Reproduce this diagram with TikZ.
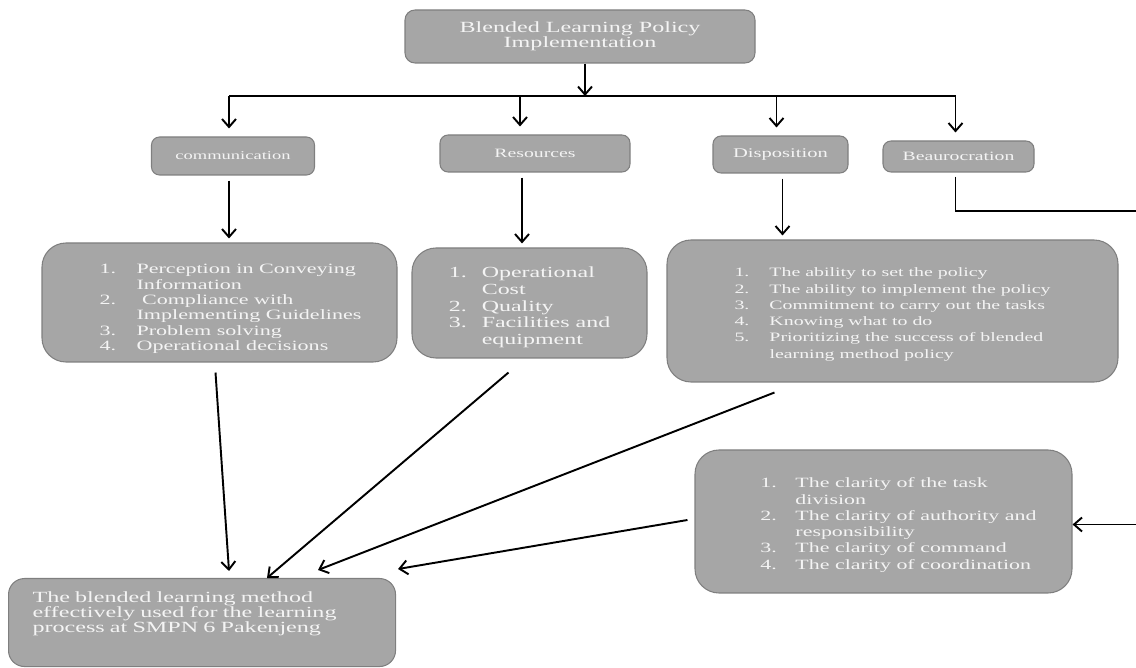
\documentclass[tikz,border=0pt]{standalone}
\usepackage{fontspec}
\setmainfont{Liberation Serif}[FakeStretch=1.55]
\usepackage{xcolor}
\usetikzlibrary{calc,arrows.meta}
\definecolor{boxfill}{HTML}{A6A6A6}
\definecolor{boxline}{HTML}{7F7F7F}
\definecolor{boxtext}{HTML}{F4F4F4}
\newlength{\pxu}\setlength{\pxu}{0.02cm}
\tikzset{
  box/.style={draw=boxline, fill=boxfill, text=boxtext, line width=0.6pt, inner sep=0pt, rounded corners=8\pxu},
  head/.style={box, font=\fontsize{7.25}{8}\selectfont},
  listbox/.style={box, rounded corners=24\pxu},
  plain/.style={draw=black, line width=1.1pt},
  conn/.style={plain, -{Straight Barb[length=1.6mm,width=2.8mm]}},
}
\begin{document}
\begin{tikzpicture}[x=0.02cm,y=-0.02cm]
  \clip (0,0) rectangle (1136,668);
  \node[box, rounded corners=10\pxu, minimum width=350\pxu, minimum height=53\pxu, align=center,
        font=\fontsize{8.85}{8.5}\selectfont] (policy) at (580,36.5) {Blended Learning Policy\\Implementation};
  \node[head, minimum width=163\pxu, minimum height=38\pxu, font=\fontsize{6.8}{8}\selectfont] (comm) at (233,156) {communication};
  \node[head, minimum width=190\pxu, minimum height=37\pxu] (res) at (535,153.5) {Resources};
  \node[head, minimum width=135\pxu, minimum height=37\pxu, font=\fontsize{7.55}{8}\selectfont] (disp) at (780.5,154.5) {Disposition};
  \node[head, minimum width=151\pxu, minimum height=31\pxu] (beau) at (958.5,156.5) {Beaurocration};
  \node[listbox, minimum width=355\pxu, text height=31\pxu, text depth=88\pxu, font=\fontsize{8.1}{8.7}\selectfont] (commlist) at (219.5,302.5) {%
    \begin{tabular}[t]{@{\hspace{22\pxu}}p{37\pxu}@{}l@{}}
      1. & Perception in Conveying\\
         & Information\\
      2. & \ Compliance with\\
         & Implementing Guidelines\\
      3. & Problem solving\\
      4. & Operational decisions
    \end{tabular}};
  \node[listbox, minimum width=235\pxu, text height=30\pxu, text depth=80\pxu, font=\fontsize{8.8}{9.45}\selectfont] (reslist) at (529.5,303) {%
    \begin{tabular}[t]{@{}p{33\pxu}@{}l@{}}
      1. & Operational\\
         & Cost\\
      2. & Quality\\
      3. & Facilities and\\
         & equipment
    \end{tabular}};
  \node[listbox, minimum width=451\pxu, text height=37\pxu, text depth=105\pxu, font=\fontsize{7.3}{9.24}\selectfont] (displist) at (892.5,311) {%
    \begin{tabular}[t]{@{}p{35\pxu}@{}l@{}}
      1. & The ability to set the policy\\
      2. & The ability to implement the policy\\
      3. & Commitment to carry out the tasks\\
      4. & Knowing what to do\\
      5. & Prioritizing the success of blended\\
         & learning method policy
    \end{tabular}};
  \node[listbox, minimum width=377\pxu, text height=38\pxu, text depth=105\pxu, font=\fontsize{8.05}{9.24}\selectfont] (clar) at (883.5,521.5) {%
    \begin{tabular}[t]{@{\hspace{30\pxu}}p{35\pxu}@{}l@{}}
      1. & The clarity of the task\\
         & division\\
      2. & The clarity of authority and\\
         & responsibility\\
      3. & The clarity of command\\
      4. & The clarity of coordination
    \end{tabular}};
  \node[listbox, rounded corners=16\pxu, anchor=north west, text width=339\pxu, inner xsep=24\pxu, inner ysep=8\pxu,
        text height=16\pxu, text depth=56\pxu, align=left, font=\fontsize{8.85}{8.5}\selectfont] (goal) at (8,578)
        {The blended learning method\\effectively used for the learning\\process at SMPN 6 Pakenjeng};

  \coordinate (split) at (585,96);
  \coordinate (edge) at (1145,211);
  \draw[conn] (policy.south -| split) -- (split);
  \draw[plain] ($(split -| comm.north)+(-4,0)$) -- ($(split -| beau.north)+(-3,0)$);
  \foreach \n/\dx in {comm/-4,res/-15,disp/-4,beau/-3}
    \draw[conn] ($(split -| \n.north)+(\dx,0)$) -- ($(\n.north)+(\dx,-8)$);
  \foreach \a/\b/\dx in {comm/commlist/-4,res/reslist/-13,disp/displist/2}
    \draw[conn] ($(\a.south)+(\dx,5)$) -- ($(\a.south |- \b.north)+(\dx,-4)$);
  \draw[conn] ($(beau.south)+(-3,4)$) |- (edge) |- ($(clar.east)+(0,3)$);
  \draw[conn] ($(commlist.south)+(-4,10)$) -- ($(goal.north west)+(221,-7)$);
  \draw[conn] ($(reslist.south)+(-21,14)$) -- ($(goal.north west)+(259,0)$);
  \draw[conn] ($(displist.south west)+(108,10)$) -- ($(goal.north west)+(310,-8)$);
  \draw[conn] ($(clar.west)+(-7,-1.5)$) -- ($(goal.north east)+(2,-9)$);
\end{tikzpicture}
\end{document}
